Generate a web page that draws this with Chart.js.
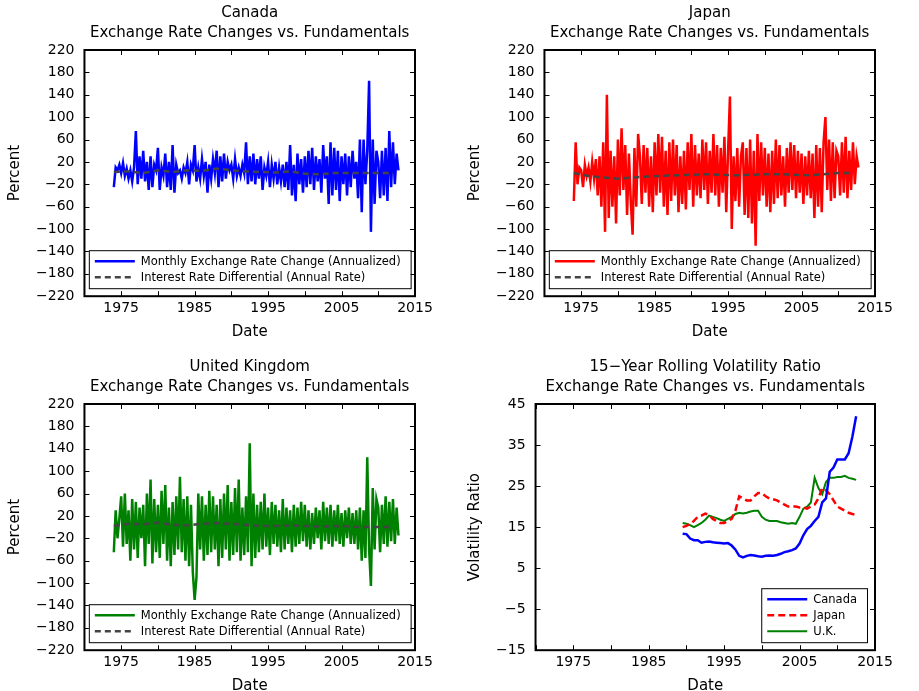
<!DOCTYPE html>
<html>
<head>
<meta charset="UTF-8">
<script src="https://cdn.jsdelivr.net/npm/chart.js"></script>
<style>
  body { margin: 0; background: #fff; }
  .p { position: absolute; width: 459px; height: 345px; }
</style>
</head>
<body>
<div class="p" style="left:0;top:0"><canvas id="c1"></canvas></div>
<div class="p" style="left:460px;top:0"><canvas id="c2"></canvas></div>
<div class="p" style="left:0;top:354px"><canvas id="c3"></canvas></div>
<div class="p" style="left:460px;top:354px"><canvas id="c4"></canvas></div>
<script>
// quarterly exchange rate changes, 1974.0 .. 2012.75
const startYear = 1974;
const canada = [
  -25,10,5,15, 0,18,-5,8, -10,5,-15,10, 75,-20,30,-10, 40,-15,20,-30, 30,-25,15,5,
  45,-30,10,-5, 35,-25,20,-30, 50,-35,15,0, 5,-10,10,0, 20,-20,15,5, 50,-15,10,-10,
  25,-5,20,-35, 15,-10,25,0, 40,-25,30,-15, 35,-10,20,5, 15,-10,25,-5, 10,-5,15,0,
  55,-20,30,-15, 35,-20,25,-10, 30,-30,10,-5, 20,-25,15,-10, 20,-20,10,-15, 15,-25,20,-30,
  50,-40,15,-50, 35,-20,25,-35, 30,-25,40,-20, 45,-30,30,-15, 25,-35,50,-10, 30,-55,55,-40,
  45,-30,40,-50, 30,-20,35,-40, 30,-25,40,-10, 20,-45,60,-70, 60,-20,40,165, -105,60,-55,40,
  20,-45,40,-40, 45,-50,75,-25, 55,-20,35,5
];
const japan = [
  -50,55,-20,10, 5,-25,15,-5, 10,-15,20,-10, 25,-40,30,-60, 55,-105,140,-80, 40,-60,30,-90,
  60,-40,80,-30, 50,-75,35,-50, -110,45,-60,70, 30,-55,50,-35, 45,-60,30,-70, 55,-40,70,-35,
  65,-60,40,-75, 55,-50,60,-40, 50,-70,30,-55, 40,-65,55,-30, 70,-60,50,-40, 35,-45,60,-30,
  55,-55,40,-35, 70,-40,50,-60, 45,-35,65,-70, 40,137,-100,30, -50,45,-60,30, 55,-75,45,-80,
  60,-90,40,-130, 70,-50,55,-40, 45,-60,35,-70, 40,-55,60,-45, 50,-40,30,-60, 45,-35,55,-30,
  50,-45,40,-35, 35,-55,30,-40, 40,-45,35,-80, 50,-60,45,-70, 55,100,-30,60, -50,55,-45,40,
  30,-40,55,-35, 65,-45,40,-30, 55,-20,30,10
];
const uk = [
  -45,30,-20,15, 55,-35,60,-30, 30,-60,50,-40, 45,-55,35,-20, 40,-70,60,-30, 85,-65,50,-45,
  40,-55,65,-30, 75,-60,35,-70, 45,-50,55,-40, 90,-45,50,-60, 55,-70,40,-80, -130,-90,60,-40,
  55,-60,40,-50, 65,-45,55,-40, 40,-70,50,-55, 60,-40,75,-60, 45,-50,70,-45, 85,-60,35,-50,
  55,-45,150,-70, 60,-55,40,-45, 45,-40,60,-35, 35,-50,45,-30, 40,-35,30,-45, 50,-40,35,-30,
  30,-45,40,-35, 35,-30,45,-25, 40,-35,30,-40, 25,-30,35,-20, 30,-40,45,-25, 35,-30,40,-35,
  30,-25,40,-30, 25,-35,30,-20, 35,-30,25,-30, 30,-40,35,-60, 30,-55,125,-40, -105,70,-40,50,
  35,-45,40,-30, 55,-35,45,-25, 50,-30,35,-15
];
// interest rate differentials, every two years 1974..2012
const diffYears = [1974,1976,1978,1980,1982,1984,1986,1988,1990,1992,1994,1996,1998,2000,2002,2004,2006,2008,2010,2012];
const canadaDiff = [2,3,0,5,2,5,4,8,5,3,2,1,3,-1,-2,0,0,0,0,0];
const japanDiff = [0,-5,-8,-10,-8,-6,-5,-4,-3,-2,-3,-4,-3,-2,-2,-3,-4,-2,0,0];
const ukDiff = [2,6,5,8,4,3,6,7,6,4,2,2,3,2,1,2,1,0,0,0];
// rolling volatility ratio, half-yearly 1989.5 .. 2012.5
const volStart = 1989.5;
const volCanada = [13.4,13.3,12.2,11.8,11.8,11.2,11.4,11.5,11.3,11.2,11.1,11,11.1,10.5,9.5,8,7.6,8,8.2,8.1,
  7.9,7.8,8,8.1,8,8.2,8.5,8.9,9.1,9.4,9.8,11,13,14.5,15.3,16.5,17.5,21,22,28.5,29.5,31.5,31.5,31.5,33,37,42];
const volJapan = [15,15.3,15.8,16.5,17.5,17.8,18.3,18,17,16.5,16,16,16.5,17,19,22.5,22,21.5,21.5,22.5,
  23.3,23.3,22.5,22,21.8,21.5,21,20.5,20,20,20,19.8,19.8,19.5,20,20.5,22,24.5,24,23,21.5,20,19.5,19,18.5,18.2,18];
const volUK = [16,15.8,15.5,15,15.5,16,16.8,17.8,17.5,17.2,16.8,16.5,17,17.5,18.2,18.5,18.3,18.5,18.8,19,
  19,17.5,16.8,16.5,16.5,16.5,16.2,16,15.8,16,15.8,17.5,19.5,20,21,27,24.5,23,26,27,27,27.2,27.2,27.5,27,26.8,26.5];

const FONT = 'DejaVu Sans';
Chart.defaults.font.family = FONT;
Chart.defaults.color = '#000';

const quarterly = arr => arr.map((v, i) => ({ x: startYear + i / 4, y: v }));
const pairs = (xs, ys) => xs.map((x, i) => ({ x: x, y: ys[i] }));
const halfYearly = arr => arr.map((v, i) => ({ x: volStart + i / 2, y: v }));

// titles centred over the plot area
const plotTitle = {
  id: 'plotTitle',
  afterDraw(chart, args, opts) {
    const { ctx, chartArea: a } = chart;
    ctx.save();
    ctx.font = '15px ' + FONT;
    ctx.fillStyle = '#000'; ctx.textAlign = 'center'; ctx.textBaseline = 'middle';
    opts.lines.forEach((t, i) => ctx.fillText(t, (a.left + a.right) / 2, 13 + i * 20));
    ctx.restore();
  }
};

// legend box inside plot area, bottom
const innerLegend = {
  id: 'innerLegend',
  afterDraw(chart, args, opts) {
    const { ctx, chartArea: a } = chart;
    const items = chart.data.datasets;
    const lh = 16;
    ctx.save();
    ctx.font = opts.font;
    let tw = 0;
    items.forEach(d => tw = Math.max(tw, ctx.measureText(d.label).width));
    const w = opts.lineLen + 14 + tw + 8;
    const h = items.length * lh + 6;
    const x = opts.align === 'right' ? a.right - 8 - w : a.left + (a.width - w) / 2;
    const y = a.bottom - 8 - h;
    ctx.fillStyle = '#fff';
    ctx.fillRect(x, y, w, h);
    ctx.strokeStyle = '#000'; ctx.lineWidth = 1;
    ctx.strokeRect(x + 0.5, y + 0.5, w, h);
    items.forEach((d, i) => {
      const yy = y + 3 + lh * i + lh / 2;
      ctx.strokeStyle = d.borderColor; ctx.lineWidth = d.borderWidth;
      ctx.setLineDash(d.borderDash || []);
      ctx.beginPath(); ctx.moveTo(x + 6, yy); ctx.lineTo(x + 6 + opts.lineLen, yy); ctx.stroke();
      ctx.setLineDash([]);
      ctx.fillStyle = '#000'; ctx.textBaseline = 'middle';
      ctx.fillText(d.label, x + 12 + opts.lineLen, yy + 1);
    });
    ctx.restore();
  }
};

// inner tick marks on all four sides
const innerTicks = {
  id: 'innerTicks',
  afterDraw(chart) {
    const { ctx, chartArea: a, scales } = chart;
    ctx.save();
    ctx.strokeStyle = '#000'; ctx.lineWidth = 1;
    ctx.beginPath();
    scales.x.ticks.forEach(t => {
      const px = Math.round(scales.x.getPixelForValue(t.value)) + 0.5;
      ctx.moveTo(px, a.bottom); ctx.lineTo(px, a.bottom - 5);
      ctx.moveTo(px, a.top); ctx.lineTo(px, a.top + 5);
    });
    scales.y.ticks.forEach(t => {
      const py = Math.round(scales.y.getPixelForValue(t.value)) + 0.5;
      ctx.moveTo(a.left, py); ctx.lineTo(a.left + 5, py);
      ctx.moveTo(a.right, py); ctx.lineTo(a.right - 5, py);
    });
    ctx.stroke();
    ctx.lineWidth = 2;
    ctx.strokeRect(a.left, a.top, a.width, a.height);
    ctx.restore();
  }
};

function makeChart(id, titleLines, datasets, yMin, yMax, yStep, yLabel, legendAlign) {
  new Chart(document.getElementById(id), {
    type: 'line',
    data: { datasets: datasets },
    plugins: [innerTicks, innerLegend, plotTitle],
    options: {
      responsive: true, maintainAspectRatio: false, animation: false,
      layout: { padding: { left: 6, right: 44, top: 50, bottom: 0 } },
      elements: { point: { radius: 0 }, line: { tension: 0 } },
      plugins: {
        legend: { display: false },
        tooltip: { enabled: false },
        title: { display: false },
        plotTitle: { lines: titleLines },
        innerLegend: { font: '11.5px ' + FONT, lineLen: 40, align: legendAlign }
      },
      scales: {
        x: {
          type: 'linear', min: 1970, max: 2015,
          grid: { display: false, drawTicks: false },
          border: { display: false },
          afterBuildTicks: s => { s.ticks = [1970,1975,1980,1985,1990,1995,2000,2005,2010,2015].map(v => ({ value: v })); },
          ticks: {
            autoSkip: false, font: { size: 14 }, maxRotation: 0, padding: 4,
            callback: v => (v % 10 === 5 ? String(v) : '')
          },
          title: { display: true, text: 'Date', font: { size: 15 }, padding: { top: 2, bottom: 4 } }
        },
        y: {
          min: yMin, max: yMax,
          grid: { display: false, drawTicks: false },
          border: { display: false },
          ticks: { stepSize: yStep, autoSkip: false, font: { size: 14 }, padding: 10, callback: v => String(v).replace('-', '\u2212') },
          title: { display: true, text: yLabel, font: { size: 15 }, padding: { top: 0, bottom: 2 } }
        }
      }
    }
  });
}

const mainLabel = 'Monthly Exchange Rate Change (Annualized)';
const diffLabel = 'Interest Rate Differential (Annual Rate)';
const diffStyle = { borderColor: '#444', borderWidth: 2.5, borderDash: [6, 4], order: 0 };

makeChart('c1', ['Canada', 'Exchange Rate Changes vs. Fundamentals'], [
  { label: mainLabel, data: quarterly(canada), borderColor: '#0000ff', borderWidth: 2.5, order: 1 },
  Object.assign({ label: diffLabel, data: pairs(diffYears, canadaDiff) }, diffStyle)
], -220, 220, 40, 'Percent', 'center');

makeChart('c2', ['Japan', 'Exchange Rate Changes vs. Fundamentals'], [
  { label: mainLabel, data: quarterly(japan), borderColor: '#ff0000', borderWidth: 2.5, order: 1 },
  Object.assign({ label: diffLabel, data: pairs(diffYears, japanDiff) }, diffStyle)
], -220, 220, 40, 'Percent', 'center');

makeChart('c3', ['United Kingdom', 'Exchange Rate Changes vs. Fundamentals'], [
  { label: mainLabel, data: quarterly(uk), borderColor: '#008000', borderWidth: 2.5, order: 1 },
  Object.assign({ label: diffLabel, data: pairs(diffYears, ukDiff) }, diffStyle)
], -220, 220, 40, 'Percent', 'center');

makeChart('c4', ['15\u2212Year Rolling Volatility Ratio', 'Exchange Rate Changes vs. Fundamentals'], [
  { label: 'Canada', data: halfYearly(volCanada), borderColor: '#0000ff', borderWidth: 2.5 },
  { label: 'Japan', data: halfYearly(volJapan), borderColor: '#ff0000', borderWidth: 2.5, borderDash: [7, 4] },
  { label: 'U.K.', data: halfYearly(volUK), borderColor: '#008000', borderWidth: 2 }
], -15, 45, 10, 'Volatility Ratio', 'right');
</script>
</body>
</html>
